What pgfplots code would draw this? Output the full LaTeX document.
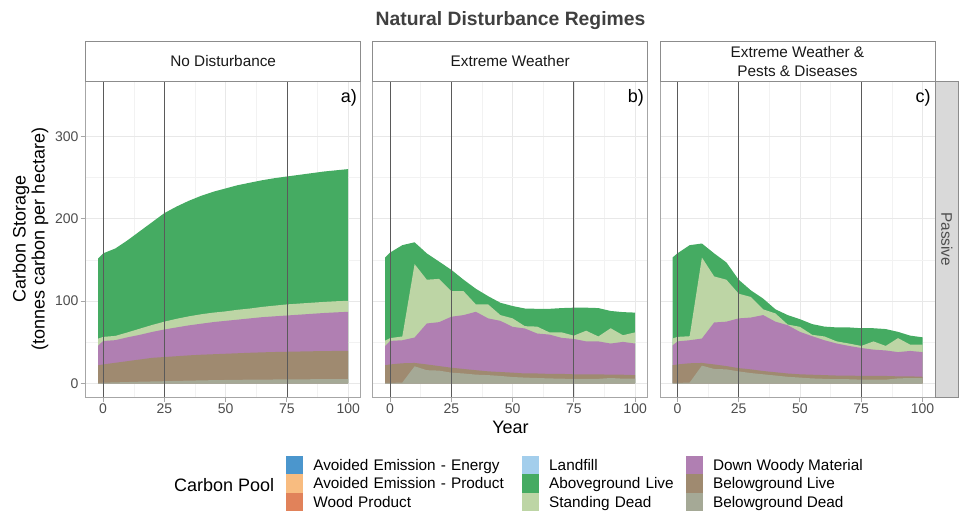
\documentclass[border=0pt]{standalone}
\usepackage{pgfplots}
\pgfplotsset{compat=1.18}
\usepackage{pgfplotstable}
\usepackage{fontspec}
\setmainfont{Liberation Sans}

\definecolor{cEnergy}{HTML}{4B96CD}
\definecolor{cProduct}{HTML}{F8BC80}
\definecolor{cWood}{HTML}{E1825A}
\definecolor{cLandfill}{HTML}{A3CEEC}
\definecolor{cAG}{HTML}{45AB62}
\definecolor{cSD}{HTML}{BDD5A5}
\definecolor{cDWM}{HTML}{B07FB2}
\definecolor{cBGL}{HTML}{9F8A70}
\definecolor{cBGD}{HTML}{A5A996}
\definecolor{tickgray}{HTML}{4D4D4D}
\definecolor{stripgray}{HTML}{D9D9D9}
\definecolor{vline}{HTML}{5A5A5A}

% cumulative tops of the stacked layers (tonnes C / ha)
\pgfplotstableread{
x   bgd  bgl  dwm   sd    ag
-2  0.5  22   46    54.5  152
0   0.8  23   51.5  56.5  158
5   1.2  25   52.5  57.7  164
10  1.6  27   56    62    174
15  2.0  29   59    66.5  185
20  2.3  31   62.5  71    196
25  2.6  32   65.5  75    207
30  3.0  33   68    78.5  215
35  3.3  34   70.5  81.5  222
40  3.6  34.8 72.5  84    228
45  3.9  35.4 74.5  86    233
50  4.1  36   76    87.5  237
55  4.3  36.6 77.5  89.5  241
60  4.5  37.2 79    91    244
65  4.6  37.7 80.5  93    247
70  4.7  38.1 81.5  94.5  249.5
75  4.8  38.4 82.5  96    251.5
80  4.9  38.7 83.5  97    253.5
85  5.0  39   84.5  98    255.5
90  5.0  39.2 85.5  99    257.5
95  5.0  39.4 86.3  99.8  259
100 5.0  39.6 87    100.4 260.5
}\tabA

\pgfplotstableread{
x   bgd  bgl  dwm   sd    ag
-2  0.5  22   45.5  52    153
0   0.5  23   51.6  55    159
5   1    24.4 52.4  57    168
10  20.7 24.8 55.7  145   171.5
15  16   23   72.8  126   158
20  15.5 21   74.4  127   148
25  13   19   81    112   138
30  12   17.5 83    112   126
35  10.6 16   87    96    115
40  10   14.6 79    96    106
45  9    13.8 76    83    98
50  7.7  13   68.7  79    94
55  7    12   66.7  69.5  91
60  6.5  12   60.6  69    90.6
65  6    11.5 59.3  62    90.6
70  5.7  11.5 55.3  62    91.5
75  5.3  11   54    58    92
80  5.5  11   51    64    92
85  5.5  11   51    57    91.5
90  6.5  10.5 48.4  67    88
95  5.7  10.5 50.4  58.5  86.6
100 5.7  10   48.4  62    86
}\tabB

\pgfplotstableread{
x   bgd  bgl  dwm   sd    ag
-2  0.5  22   46    54.5  153
0   0.5  23   51    56.5  158
5   1    24.4 52.4  57.3  168
10  21.5 24.8 54.5  153   170
15  17.5 23   74    130   158
20  17   21   75    126   147
25  14.5 18.5 79    109   126
30  12.5 17   80    105   113
35  11   15   83    90    103
40  9.5  13.5 75    85    90
45  8    12   70.7  71.5  83
50  7    11   62.6  68.7  78
55  6    10.5 57.3  59    72
60  5.5  10   52.4  57    69
65  5    9.5  48.4  51    68
70  5    9.5  45.5  48.4  68
75  4.5  9    43    45.5  67
80  4.5  9    41    51    67
85  4.5  9    40    45.5  66
90  6    8.5  38    55    62.6
95  6.5  8.5  39.4  47    58
100 6.5  8    38    47    56
}\tabC

\pgfplotsset{
  panel/.style={
    scale only axis, width=206.25pt, height=237.2pt,
    anchor=south west,
    xmin=-7.1, xmax=105.1, ymin=-17, ymax=367.5,
    xtick={0,25,50,75,100}, ytick={0,100,200,300},
    minor x tick num=1, minor y tick num=1,
    grid=both,
    major grid style={color=black!9, line width=0.55pt},
    minor grid style={color=black!5, line width=0.35pt},
    tick align=outside, xtick pos=bottom, ytick pos=left,
    major tick length=3.75pt, minor tick length=0pt,
    tick style={color=black!35, line width=0.7pt},
    axis line style={color=black!35, line width=0.7pt},
    ticklabel style={font=\fontsize{10.5}{12}\selectfont, text=tickgray},
    /pgf/number format/assume math mode=true,
    xticklabel style={inner sep=1pt},
    yticklabel style={inner sep=1.5pt},
  },
  lay/.style={fill=#1, draw=none, forget plot},
  vl/.style={color=vline, line width=0.6pt, forget plot},
}

\newcommand{\panelplots}[2]{%
  \addplot[lay=cAG]  table[x=x,y=ag]{#1} \closedcycle;
  \addplot[lay=cSD]  table[x=x,y=sd]{#1} \closedcycle;
  \addplot[lay=cDWM] table[x=x,y=dwm]{#1} \closedcycle;
  \addplot[lay=cBGL] table[x=x,y=bgl]{#1} \closedcycle;
  \addplot[lay=cBGD] table[x=x,y=bgd]{#1} \closedcycle;
  \addplot[vl] coordinates {(0,-17) (0,367.5)};
  \addplot[vl] coordinates {(25,-17) (25,367.5)};
  \addplot[vl] coordinates {(75,-17) (75,367.5)};
  \node[font=\fontsize{13.5}{15}\selectfont, text=black] at (axis cs:100.3,347) {#2};
}

\begin{document}
\begin{tikzpicture}
\useasboundingbox (0pt,0pt) rectangle (720.75pt,384pt);

% panel a
\begin{axis}[panel, at={(64.3pt,86pt)}]
\panelplots{\tabA}{a)}
\end{axis}

% panel b
\begin{axis}[panel, at={(279.5pt,86pt)}, yticklabels={}, ytick style={draw=none}]
\panelplots{\tabB}{b)}
\end{axis}

% panel c
\begin{axis}[panel, at={(495pt,86pt)}, yticklabels={}, ytick style={draw=none}]
\panelplots{\tabC}{c)}
\end{axis}

% strips
\begin{scope}[line width=0.7pt, draw=black!45]
\draw[fill=white] (64.3pt,323.2pt) rectangle (270.55pt,353.25pt);
\draw[fill=white] (279.5pt,323.2pt) rectangle (485.75pt,353.25pt);
\draw[fill=white] (495pt,323.2pt) rectangle (701.25pt,353.25pt);
\draw[fill=stripgray] (701.25pt,86pt) rectangle (718.9pt,323.2pt);
\end{scope}
\begin{scope}[font=\fontsize{11.5}{14.2}\selectfont, text=black!90]
\node at (167.4pt,338.2pt) {No Disturbance};
\node at (382.6pt,338.2pt) {Extreme Weather};
\node[align=center] at (598.1pt,338.2pt) {Extreme Weather \&\\Pests \& Diseases};
\node[rotate=-90, text=black!70] at (710.1pt,204.6pt) {Passive};
\end{scope}

% titles
\node[anchor=base, font=\bfseries\fontsize{14.5}{17}\selectfont, text=black!75] at (382.9pt,364.5pt) {Natural Disturbance Regimes};
\node[anchor=base, font=\fontsize{13.5}{15}\selectfont] at (382.9pt,59.25pt) {Year};
\node[rotate=90, align=center, font=\fontsize{13.5}{14.3}\selectfont] at (22.9pt,204.75pt) {Carbon Storage\\(tonnes carbon per hectare)};

% legend
\node[anchor=base west, font=\fontsize{13.5}{15}\selectfont] at (127pt,15.5pt) {Carbon Pool};
\begin{axis}[at={(0pt,0pt)}, anchor=south west, scale only axis,
  width=720.75pt, height=384pt, hide axis,
  xmin=0, xmax=1, ymin=0, ymax=1,
  legend columns=3, legend cell align=left,
  legend image code/.code={\fill[#1] (0pt,-6.875pt) rectangle (13pt,6.875pt); \path (20.5pt,0pt);},
  legend style={at={(0.2976,0.1094)}, anchor=north west, draw=none, fill=none,
    inner sep=0pt, outer sep=0pt, row sep=0pt, column sep=0pt,
    font=\fontsize{11.5}{13}\selectfont,
    nodes={inner sep=0pt, text height=8.2pt, text depth=0pt, anchor=west}},
]
\addlegendimage{fill=cEnergy, draw=none}\addlegendentry[text width=156.4pt, align=left]{Avoided Emission - Energy}
\addlegendimage{fill=cLandfill, draw=none}\addlegendentry[text width=102.4pt, align=left]{Landfill}
\addlegendimage{fill=cDWM, draw=none}\addlegendentry{Down Woody Material}
\addlegendimage{fill=cProduct, draw=none}\addlegendentry[text width=156.4pt, align=left]{Avoided Emission - Product}
\addlegendimage{fill=cAG, draw=none}\addlegendentry[text width=102.4pt, align=left]{Aboveground Live}
\addlegendimage{fill=cBGL, draw=none}\addlegendentry{Belowground Live}
\addlegendimage{fill=cWood, draw=none}\addlegendentry[text width=156.4pt, align=left]{Wood Product}
\addlegendimage{fill=cSD, draw=none}\addlegendentry[text width=102.4pt, align=left]{Standing Dead}
\addlegendimage{fill=cBGD, draw=none}\addlegendentry{Belowground Dead}
\end{axis}
\end{tikzpicture}
\end{document}
